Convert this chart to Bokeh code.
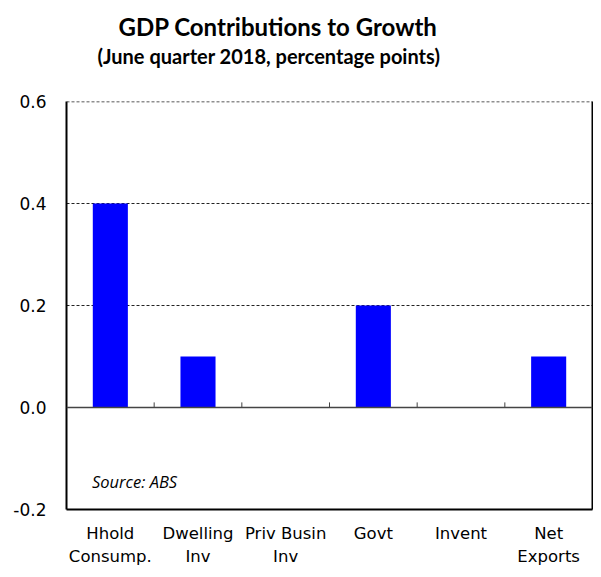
import numpy as np
from bokeh.plotting import figure
from bokeh.models import Range1d, FixedTicker, Label, LinearAxis, Span, Title
from bokeh.embed import file_html
from bokeh.resources import INLINE

categories = ["Hhold\nConsump.", "Dwelling\nInv", "Priv Busin\nInv", "Govt", "Invent", "Net\nExports"]
values = [0.4, 0.1, 0.0, 0.2, 0.0, 0.1]
y_ticks = [-0.2, 0.0, 0.2, 0.4, 0.6]
y_tick_labels = ["-0.2", "0.0", "0.2", "0.4", "0.6"]

n = len(categories)
centers = list(np.arange(n) + 0.5)
boundaries = list(np.arange(1, n))

p = figure(width=593, height=569, output_backend="svg", toolbar_location=None,
           x_range=Range1d(0, n), y_range=Range1d(-0.2, 0.6),
           min_border_left=66, min_border_right=1, min_border_top=101, min_border_bottom=0)
p.background_fill_color = "white"
p.border_fill_color = "white"
p.outline_line_color = None

p.vbar(x=centers, top=values, bottom=0, width=0.4, fill_color="#0000FF", line_color=None)

# grid
p.xgrid.visible = False
p.ygrid.ticker = FixedTicker(ticks=[0.2, 0.4])
p.ygrid.grid_line_color = "#222222"
p.ygrid.grid_line_dash = "3 2"
p.ygrid.grid_line_width = 1
p.add_layout(Span(location=0.6, dimension="width", line_color="#222222", line_width=1.5, line_dash="3 2"))

zero = Span(location=0, dimension="width", line_color="#444444", line_width=1.5)
p.add_layout(zero)

# small ticks on zero line at category boundaries
p.segment(x0=boundaries, x1=boundaries, y0=[0] * len(boundaries), y1=[0.01] * len(boundaries),
          line_color="#444444", line_width=1)

# y axis
p.yaxis.ticker = FixedTicker(ticks=y_ticks)
p.yaxis.major_label_overrides = {t: l for t, l in zip(y_ticks, y_tick_labels)}
p.yaxis.major_tick_out = 0
p.yaxis.major_tick_in = 0
p.yaxis.minor_tick_line_color = None
p.yaxis.axis_line_color = "black"
p.yaxis.axis_line_width = 2
p.yaxis.major_label_text_font = "DejaVu Sans"
p.yaxis.major_label_text_font_size = "17px"
p.yaxis.major_label_text_color = "black"
p.yaxis.major_label_standoff = 20

# x axis
p.xaxis.ticker = FixedTicker(ticks=centers)
p.xaxis.major_label_overrides = {c: l for c, l in zip(centers, categories)}
p.xaxis.major_tick_out = 0
p.xaxis.major_tick_in = 0
p.xaxis.minor_tick_line_color = None
p.xaxis.axis_line_color = "black"
p.xaxis.axis_line_width = 2
p.xaxis.major_label_text_font = "DejaVu Sans"
p.xaxis.major_label_text_font_size = "16.5px"
p.xaxis.major_label_text_color = "black"
p.xaxis.major_label_text_line_height = 1.25
p.xaxis.major_label_standoff = 14

# right border
ra = LinearAxis(major_tick_out=0, major_tick_in=0, minor_tick_out=0, minor_tick_in=0,
                major_label_text_font_size="0px", axis_line_width=2, axis_line_color="black")
ra.ticker = FixedTicker(ticks=[])
p.add_layout(ra, "right")

# titles (first added is closest to the plot); a blank spacer sits between subtitle and frame
p.add_layout(Title(text=" ", text_font_size="1px", standoff=31), "above")
p.add_layout(Title(text="(June quarter 2018, percentage points)", align="left", offset=31,
                   text_font="Lato", text_font_style="bold", text_font_size="20px",
                   text_color="black", standoff=0), "above")
p.add_layout(Title(text="GDP Contributions to Growth", align="left", offset=52,
                   text_font="Lato", text_font_style="bold", text_font_size="24px",
                   text_color="black", standoff=2), "above")

p.add_layout(Label(x=0.29, y=-0.145, text="Source: ABS", text_align="left",
                   text_baseline="middle", text_font="Open Sans", text_font_style="italic",
                   text_font_size="16.5px", text_color="black"))

open("out.html", "w").write(file_html(p, INLINE))
